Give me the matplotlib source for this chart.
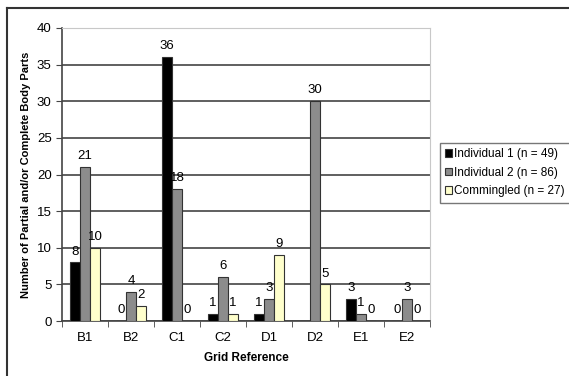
from matplotlib import pyplot as plt
import numpy as np

plt.rcParams['font.family'] = ['Liberation Sans', 'DejaVu Sans']

grids = ["B1", "B2", "C1", "C2", "D1", "D2", "E1", "E2"]
ind1 = [8, 0, 36, 1, 1, 0, 3, 0]
ind2 = [21, 4, 18, 6, 3, 30, 1, 3]
comm = [10, 2, 0, 1, 9, 5, 0, 0]
names = ["Individual 1 (n = 49)", "Individual 2 (n = 86)", "Commingled (n = 27)"]
# D2 black bar has no label in the original
skip = {(0, 5)}

fig = plt.figure(figsize=(5.69, 3.76), dpi=100)
ax = fig.add_axes([62/569, 55/376, 368/569, 293/376])

x = np.arange(len(grids))
w = 0.22
series = [ind1, ind2, comm]
colors = ["black", "#8c8c8c", "#ffffcc"]
for i, (vals, col, nm) in enumerate(zip(series, colors, names)):
    pos = x + (i - 1) * w
    ax.bar(pos, vals, w, color=col, edgecolor="#333333", linewidth=0.8, label=nm, zorder=3)
    for j, (p, v) in enumerate(zip(pos, vals)):
        if (i, j) in skip:
            continue
        ax.annotate(str(v), (p, v), xytext=(0, 3.5), textcoords="offset points",
                    ha="center", va="bottom", fontsize=9.5, zorder=4)

ax.set_xlim(-0.5, len(grids) - 0.5)
ax.set_ylim(0, 40)
ax.set_yticks(range(0, 41, 5))
ax.yaxis.grid(True, color="#444444", linewidth=1.2, zorder=0)
ax.set_xticks(x)
ax.set_xticklabels(grids)
ax.tick_params(axis="x", length=0, labelsize=9.5, pad=8)
ax.set_xticks(np.arange(-0.5, len(grids), 1), minor=True)
ax.tick_params(axis="x", which="minor", length=4, color="#444444")
ax.tick_params(axis="y", length=4, labelsize=9.5, color="#444444")
for s in ["top", "right"]:
    ax.spines[s].set_color("#c8c8c8")
for s in ["left", "bottom"]:
    ax.spines[s].set_color("#444444")
    ax.spines[s].set_linewidth(1.2)

ax.set_xlabel("Grid Reference", fontsize=8.5, fontweight="bold", labelpad=6)
ax.set_ylabel("Number of Partial and/or Complete Body Parts", fontsize=8, fontweight="bold", labelpad=4)

leg = fig.legend(loc="upper left", bbox_to_anchor=(440/569, 1 - 143/376), fontsize=8.5,
                 handlelength=0.6, handleheight=0.6, handletextpad=0.15,
                 borderpad=0.45, labelspacing=0.55, borderaxespad=0,
                 fancybox=False, edgecolor="#555555")
leg.get_frame().set_linewidth(1)

# outer chart frame
fig.add_artist(plt.Line2D([7/569, 1], [1 - 8/376, 1 - 8/376], color="#333333", linewidth=1.5))
fig.add_artist(plt.Line2D([7/569, 7/569], [0, 1 - 8/376], color="#333333", linewidth=1.5))

fig.savefig("out.png", dpi=100)
